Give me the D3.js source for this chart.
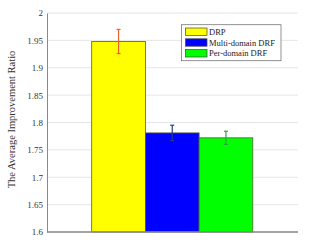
<!DOCTYPE html>
<html>
<head>
<meta charset="utf-8">
<script src="https://cdn.jsdelivr.net/npm/d3@7"></script>
<style>
  body { margin: 0; background: #fff; }
  svg text { font-family: "Liberation Serif", "DejaVu Serif", serif; }
</style>
</head>
<body>
<figure id="bar" style="margin:0"></figure>
<script>
const categories = ["DRP", "Multi-domain DRF", "Per-domain DRF"];
const ratios = [1.948, 1.781, 1.772];
const errors = [0.022, 0.014, 0.012];
const colors = ["#ffff00", "#0000ff", "#00ff00"];
const errColors = ["#e8602c", "#23399a", "#35a04a"];
const yTicks = [1.6, 1.65, 1.7, 1.75, 1.8, 1.85, 1.9, 1.95, 2];

const width = 312, height = 248;
const margin = {top: 13, right: 14, bottom: 16, left: 47};
const innerW = width - margin.left - margin.right;
const innerH = height - margin.top - margin.bottom;

const svg = d3.select("figure#bar")
  .append("svg")
  .attr("width", width)
  .attr("height", height)
  .append("g")
  .attr("transform", "translate(" + margin.left + "," + margin.top + ")");

const y = d3.scaleLinear().domain([1.6, 2]).range([innerH, 0]);

// bars sit side by side, group centred slightly left of middle
const x = d3.scaleBand()
  .domain(categories)
  .range([44.7, 44.7 + 53.7 * 3])
  .padding(0);

// grid lines
svg.append("g")
  .selectAll("line")
  .data(yTicks)
  .enter()
  .append("line")
  .attr("x1", 0)
  .attr("x2", innerW)
  .attr("y1", d => y(d))
  .attr("y2", d => y(d))
  .attr("stroke", "#e6e6e6")
  .attr("stroke-width", 1);

// Y axis
const yAxis = svg.append("g")
  .call(d3.axisLeft(y).tickValues(yTicks).tickSize(0).tickPadding(4).tickFormat(d3.format("")));
yAxis.select(".domain").attr("stroke", "#8a8a8a").attr("stroke-width", 1);
yAxis.selectAll("text")
  .style("font-size", "9px")
  .attr("fill", "#333");

// bars
svg.selectAll("bars")
  .data(categories)
  .enter()
  .append("rect")
  .attr("x", d => x(d))
  .attr("y", (d, i) => y(ratios[i]))
  .attr("width", x.bandwidth())
  .attr("height", (d, i) => innerH - y(ratios[i]))
  .attr("fill", (d, i) => colors[i])
  .attr("stroke", "#5a5a3a")
  .attr("stroke-width", 0.8);

// bottom axis line
svg.append("line")
  .attr("x1", 0).attr("x2", innerW)
  .attr("y1", innerH).attr("y2", innerH)
  .attr("stroke", "#8a8a8a")
  .attr("stroke-width", 1.5);

// error bars
const eb = svg.selectAll("errs")
  .data(categories)
  .enter()
  .append("g")
  .attr("stroke", (d, i) => errColors[i])
  .attr("stroke-width", 1.2);
eb.append("line")
  .attr("x1", d => x(d) + x.bandwidth() / 2)
  .attr("x2", d => x(d) + x.bandwidth() / 2)
  .attr("y1", (d, i) => y(ratios[i] + errors[i]))
  .attr("y2", (d, i) => y(ratios[i] - errors[i]));
[1, -1].forEach(s => {
  eb.append("line")
    .attr("x1", d => x(d) + x.bandwidth() / 2 - 2)
    .attr("x2", d => x(d) + x.bandwidth() / 2 + 2)
    .attr("y1", (d, i) => y(ratios[i] + s * errors[i]))
    .attr("y2", (d, i) => y(ratios[i] + s * errors[i]));
});

// Y axis label
svg.append("text")
  .attr("text-anchor", "middle")
  .attr("transform", "rotate(-90)")
  .attr("x", -(innerH / 2) + 3)
  .attr("y", -32)
  .style("font-size", "10.5px")
  .attr("fill", "#333")
  .text("The Average Improvement Ratio");

// legend
const legend = svg.append("g")
  .attr("transform", "translate(" + (181.5 - margin.left) + "," + (24.7 - margin.top) + ")");
legend.append("rect")
  .attr("width", 99.5)
  .attr("height", 36)
  .attr("fill", "#fff")
  .attr("stroke", "#777")
  .attr("stroke-width", 0.8);
const rows = legend.selectAll("row")
  .data(categories)
  .enter()
  .append("g")
  .attr("transform", (d, i) => "translate(4," + (7 + i * 10.8) + ")");
rows.append("rect")
  .attr("x", 0).attr("y", -3.7)
  .attr("width", 21.5).attr("height", 7.4)
  .attr("fill", (d, i) => colors[i])
  .attr("stroke", "#444")
  .attr("stroke-width", 0.7);
rows.append("text")
  .attr("x", 23.5)
  .attr("y", 3)
  .style("font-size", "8.5px")
  .attr("fill", "#222")
  .text(d => d);
</script>
</body>
</html>
